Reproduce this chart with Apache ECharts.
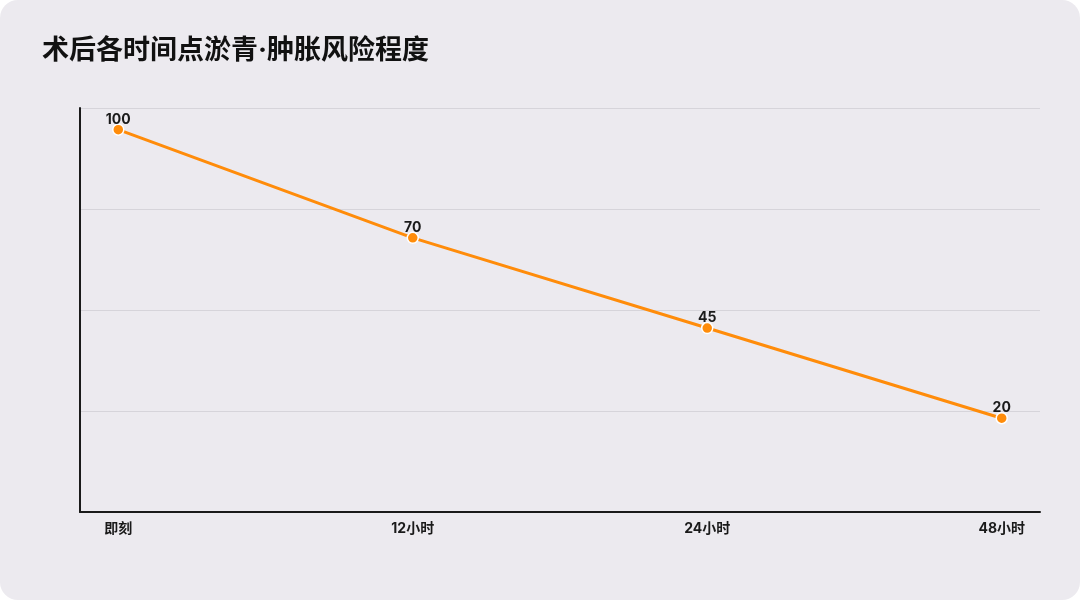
<!DOCTYPE html>
<html lang="zh-CN">
<head>
    <meta charset="UTF-8">
    <title>术后各时间点淤青·肿胀风险程度</title>
    <script src="https://cdn.jsdelivr.net/npm/echarts@6/dist/echarts.min.js"></script>
    <style>
        html, body { margin: 0; padding: 0; background: #ffffff; }
        #chart {
            width: 1080px; height: 600px;
            background: #ECEAEF;
            border-radius: 18px;
            overflow: hidden;
        }
    </style>
</head>
<body>
<div id="chart"></div>
<script>
    // 数据
    var titleText = '术后各时间点淤青·肿胀风险程度';
    var timePoints = ['即刻', '12小时', '24小时', '48小时'];
    var riskValues = [100, 70, 45, 20];

    var chart = echarts.init(document.getElementById('chart'), null, { renderer: 'canvas' });

    var seriesData = [];
    for (var i = 0; i < riskValues.length; i++) {
        seriesData.push([i, riskValues[i]]);
    }
    var labelPos = [];
    for (var j = 0; j < timePoints.length; j++) {
        labelPos.push(j);
    }

    var font = 'Inter, "Noto Sans CJK SC", sans-serif';

    chart.setOption({
        backgroundColor: 'transparent',
        textStyle: { fontFamily: font },
        title: {
            text: titleText,
            left: 37,
            top: 32,
            textStyle: { fontSize: 27, fontWeight: 'bold', color: '#111111', fontFamily: font }
        },
        grid: { left: 80, right: 40, top: 108, bottom: 88 },
        xAxis: {
            type: 'value',
            min: -0.13,
            max: 3.13,
            axisLine: { show: true, onZero: false, lineStyle: { color: '#1a1a1a', width: 2 } },
            axisTick: { show: false },
            splitLine: { show: false },
            axisLabel: {
                customValues: labelPos,
                margin: 10,
                fontSize: 14,
                fontWeight: 'bold',
                color: '#1a1a1a',
                fontFamily: font,
                formatter: function (v) { return timePoints[Math.round(v)]; }
            }
        },
        yAxis: {
            type: 'value',
            min: -6,
            max: 106,
            interval: 28,
            axisLine: { show: true, onZero: false, lineStyle: { color: '#1a1a1a', width: 2 } },
            axisTick: { show: false },
            axisLabel: { show: false },
            splitLine: { show: true, lineStyle: { color: '#D6D4DA', width: 1 } }
        },
        series: [{
            type: 'line',
            data: seriesData,
            symbol: 'circle',
            symbolSize: 11,
            lineStyle: { color: '#FF8C0A', width: 3 },
            itemStyle: { color: '#FF8C0A', borderColor: '#ffffff', borderWidth: 1.5 },
            label: {
                show: true,
                position: 'top',
                distance: -3,
                fontSize: 14,
                fontWeight: 'bold',
                color: '#1a1a1a',
                fontFamily: font,
                formatter: function (p) { return p.value[1]; }
            },
            animation: false
        }]
    });

    window.addEventListener('resize', function () {
        chart.resize();
    });
</script>
</body>
</html>
